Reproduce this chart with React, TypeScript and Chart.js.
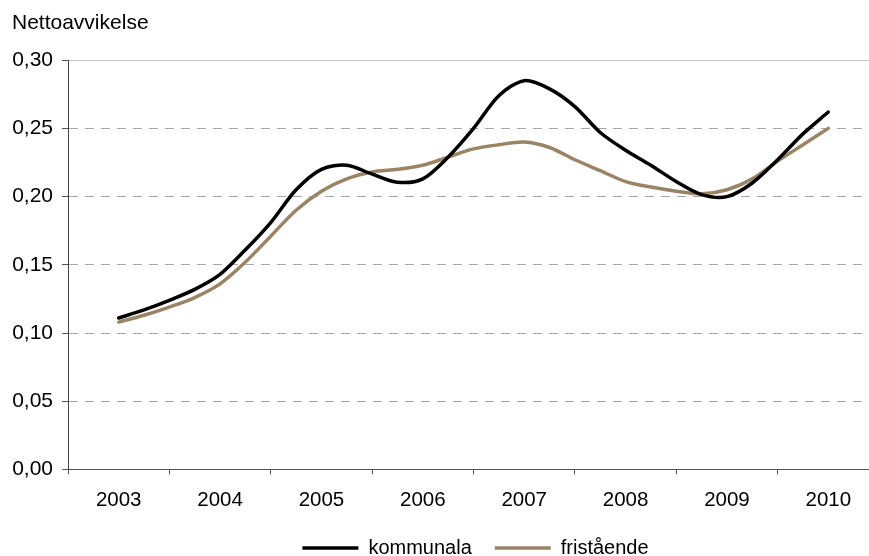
import React, { useEffect, useRef } from "react";
import { Chart, registerables } from "chart.js";

Chart.register(...registerables);

const years = ["2003", "2004", "2005", "2006", "2007", "2008", "2009", "2010"];

const periods = [
  2003, 2003.25, 2003.5, 2003.75,
  2004, 2004.25, 2004.5, 2004.75,
  2005, 2005.25, 2005.5, 2005.75,
  2006, 2006.25, 2006.5, 2006.75,
  2007, 2007.25, 2007.5, 2007.75,
  2008, 2008.25, 2008.5, 2008.75,
  2009, 2009.25, 2009.5, 2009.75,
  2010,
];

const kommunala = [
  0.111, 0.117, 0.124, 0.132,
  0.143, 0.161, 0.181, 0.205,
  0.220, 0.223, 0.2165, 0.2105,
  0.213, 0.229, 0.250, 0.274,
  0.285, 0.279, 0.266, 0.247,
  0.234, 0.223, 0.211, 0.2015,
  0.200, 0.210, 0.227, 0.246,
  0.262,
];

const fristaende = [
  0.108, 0.113, 0.119, 0.126,
  0.136, 0.152, 0.171, 0.190,
  0.204, 0.213, 0.218, 0.220,
  0.223, 0.229, 0.235, 0.238,
  0.240, 0.236, 0.227, 0.219,
  0.211, 0.207, 0.204, 0.202,
  0.205, 0.213, 0.226, 0.238,
  0.250,
];

const seriesNames = ["kommunala", "fristående"];
const yTitle = "Nettoavvikelse";
const yMin = 0;
const yMax = 0.3;
const yStep = 0.05;

const FONT = "'Liberation Sans', Arial, sans-serif";

export default function App() {
  const ref = useRef<HTMLCanvasElement | null>(null);

  useEffect(() => {
    if (!ref.current) return;
    const legendShift = {
      id: "legendShift",
      afterLayout(chart: any) {
        const l = chart.legend;
        if (l) {
          l.left += 30;
          l.right += 30;
          l.top -= 12;
          l.bottom -= 12;
        }
      },
    };
    const chart = new Chart(ref.current, {
      type: "line",
      data: {
        labels: years,
        datasets: [
          {
            label: seriesNames[0],
            data: periods.map((p, i) => ({ x: p, y: kommunala[i] })),
            xAxisID: "xq",
            borderColor: "#000000",
            backgroundColor: "#000000",
            borderWidth: 3.5,
            pointRadius: 0,
            tension: 0.3,
            fill: false,
            borderCapStyle: "round",
            borderJoinStyle: "round",
          },
          {
            label: seriesNames[1],
            data: periods.map((p, i) => ({ x: p, y: fristaende[i] })),
            xAxisID: "xq",
            borderColor: "#9a8466",
            backgroundColor: "#9a8466",
            borderWidth: 3.5,
            pointRadius: 0,
            tension: 0.3,
            fill: false,
            borderCapStyle: "round",
            borderJoinStyle: "round",
          },
        ],
      },
      options: {
        responsive: false,
        animation: false,
        layout: { padding: { left: 12, right: 11, top: 0, bottom: 0 } },
        plugins: {
          title: {
            display: true,
            text: yTitle,
            align: "start",
            color: "#000",
            font: { family: FONT, size: 21, weight: "normal" },
            padding: { top: 11, bottom: 24 },
          },
          legend: {
            position: "bottom",
            labels: {
              usePointStyle: true,
              pointStyle: "line",
              pointStyleWidth: 56,
              padding: 23,
              color: "#000",
              font: { family: FONT, size: 20 },
            },
          },
          tooltip: { enabled: false },
        },
        scales: {
          x: {
            type: "category",
            offset: true,
            grid: {
              offset: true,
              drawOnChartArea: false,
              tickLength: 5,
              tickColor: "#555",
              color: "#555",
            },
            border: { color: "#555", width: 1 },
            ticks: {
              color: "#000",
              font: { family: FONT, size: 20.5 },
              padding: 14,
              maxRotation: 0,
            },
          },
          xq: {
            type: "linear",
            display: false,
            min: 2002.5,
            max: 2010.5,
          },
          y: {
            min: yMin,
            max: yMax,
            afterFit(scale: any) {
              scale.width = 56;
            },
            ticks: {
              stepSize: yStep,
              color: "#000",
              font: { family: FONT, size: 21 },
              padding: 9,
              callback: (v: any) => Number(v).toFixed(2).replace(".", ","),
            },
            grid: {
              tickLength: 6,
              tickColor: "#555",
              color: (c: any) => {
                const v = c.tick ? c.tick.value : 0;
                if (v < 0.001) return "rgba(0,0,0,0)";
                if (v > 0.299) return "#c4c4c4";
                return "#a6a6a6";
              },
              lineWidth: 1,
            },
            border: {
              color: "#444",
              width: 1,
              dash: (c: any) => {
                const v = c.tick ? c.tick.value : null;
                if (v !== null && v !== undefined && v > 0.001 && v < 0.299) return [9, 7];
                return [];
              },
            },
          },
        },
      },
      plugins: [legendShift],
    } as any);
    return () => chart.destroy();
  }, []);

  return (
    <div
      style={{
        position: "fixed",
        left: 0,
        top: 0,
        width: 869,
        height: 556,
        overflow: "hidden",
        background: "#fff",
      }}
    >
      <canvas ref={ref} width={890} height={580} style={{ display: "block" }} />
    </div>
  );
}
